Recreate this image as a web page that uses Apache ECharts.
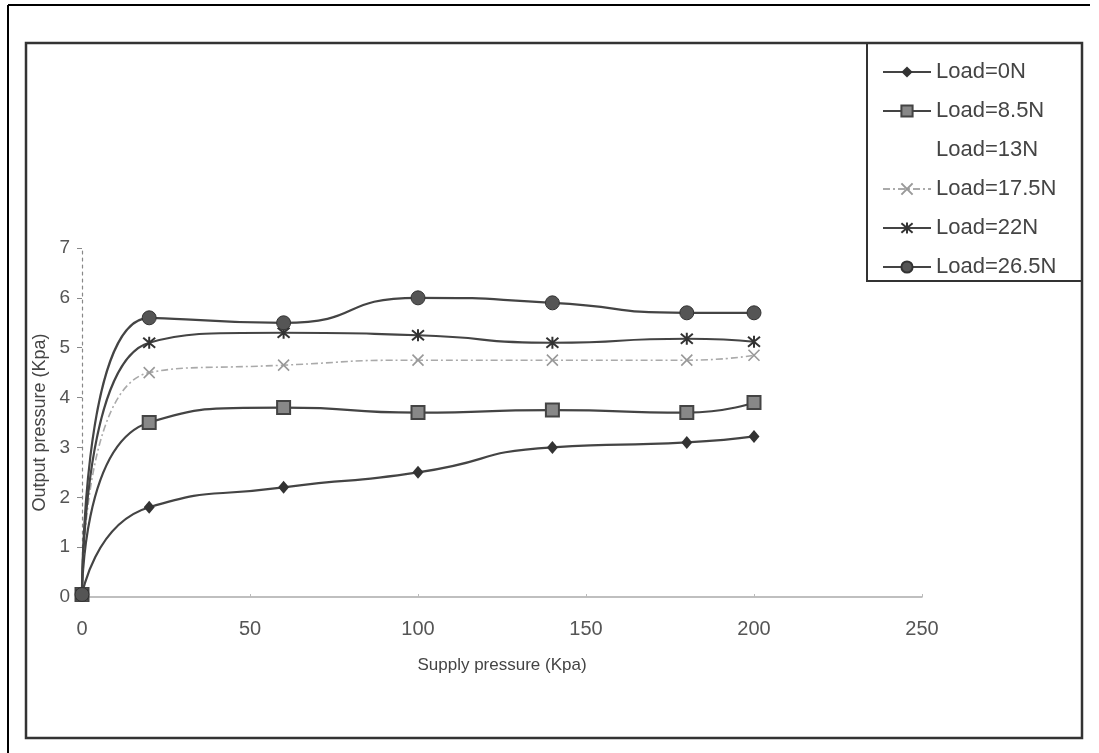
<!DOCTYPE html>
<html>
<head>
<meta charset="utf-8">
<title>Output pressure vs supply pressure</title>
<script src="https://cdn.jsdelivr.net/npm/echarts@6/dist/echarts.min.js"></script>
<style>
  html, body { margin: 0; padding: 0; background: #fff; }
  #chart { width: 1099px; height: 753px; }
</style>
</head>
<body>
<div id="chart"></div>
<script>
// supply pressure (Kpa) where readings were taken
const supply = [0, 20, 60, 100, 140, 180, 200];

// output pressure (Kpa) for each load
const load0 = [0.05, 1.8, 2.2, 2.5, 3.0, 3.1, 3.22];
const load85 = [0.05, 3.5, 3.8, 3.7, 3.75, 3.7, 3.9];
const load13 = []; // nothing drawn for this load in the original
const load175 = [0.05, 4.5, 4.65, 4.75, 4.75, 4.75, 4.85];
const load22 = [0.05, 5.1, 5.3, 5.25, 5.1, 5.18, 5.12];
const load265 = [0.05, 5.6, 5.5, 6.0, 5.9, 5.7, 5.7];

const names = ['Load=0N', 'Load=8.5N', 'Load=13N', 'Load=17.5N', 'Load=22N', 'Load=26.5N'];
const xTicks = [0, 50, 100, 150, 200, 250];
const yTicks = [0, 1, 2, 3, 4, 5, 6, 7];

const pair = arr => arr.map((v, i) => [supply[i], v]);

const crossPath = 'path://M0,0L10,10M10,0L0,10';
const starPath = 'path://M0,0L10,10M10,0L0,10M5,-1L5,11';

const chart = echarts.init(document.getElementById('chart'));

chart.setOption({
  animation: false,
  backgroundColor: '#fff',
  textStyle: { fontFamily: 'Liberation Sans, Arial, sans-serif', color: '#444' },
  grid: { left: 82, right: 177, top: 248, bottom: 156 },
  graphic: [
    // scan frame: only top and left edges show
    { type: 'line', shape: { x1: 8, y1: 5, x2: 1090, y2: 5 }, style: { stroke: '#000', lineWidth: 2 } },
    { type: 'line', shape: { x1: 8, y1: 5, x2: 8, y2: 753 }, style: { stroke: '#000', lineWidth: 2 } },
    // chart frame
    { type: 'rect', shape: { x: 26, y: 43, width: 1056, height: 695 }, style: { fill: 'none', stroke: '#333', lineWidth: 2.5 } },
    // legend box
    { type: 'rect', shape: { x: 867, y: 43, width: 215, height: 238 }, style: { fill: 'none', stroke: '#333', lineWidth: 2 } }
  ],
  legend: {
    orient: 'vertical',
    left: 882,
    top: 61,
    padding: 0,
    itemWidth: 48,
    itemHeight: 14,
    itemGap: 17,
    data: names,
    textStyle: { fontSize: 22, lineHeight: 22, color: '#444', fontFamily: 'Liberation Sans, Arial, sans-serif' }
  },
  xAxis: {
    type: 'value',
    min: 0,
    max: 250,
    interval: 50,
    name: 'Supply pressure (Kpa)',
    nameLocation: 'middle',
    nameGap: 60,
    nameTextStyle: { fontSize: 17, color: '#444' },
    axisLine: { lineStyle: { color: '#aaa', width: 1.5 } },
    axisTick: { show: true, inside: true, length: 3, lineStyle: { color: '#bbb' } },
    axisLabel: {
      fontSize: 20, color: '#555', margin: 22,
      formatter: v => xTicks.includes(v) ? String(v) : ''
    },
    splitLine: { show: false }
  },
  yAxis: {
    type: 'value',
    min: 0,
    max: 7,
    interval: 1,
    name: 'Output pressure (Kpa)',
    nameLocation: 'middle',
    nameGap: 32,
    nameTextStyle: { fontSize: 18, color: '#444' },
    axisLine: { show: true, lineStyle: { color: '#888', width: 1.2, type: [3, 4] } },
    axisTick: { show: true, length: 5, lineStyle: { color: '#888' } },
    axisLabel: {
      fontSize: 19, color: '#555', margin: 12,
      formatter: v => yTicks.includes(v) ? String(v) : ''
    },
    splitLine: { show: false }
  },
  series: [
    {
      name: names[0], type: 'line', smooth: 0.6, data: pair(load0),
      symbol: 'diamond', symbolSize: [11, 13],
      lineStyle: { color: '#444', width: 2.2 },
      itemStyle: { color: '#333' }
    },
    {
      name: names[1], type: 'line', smooth: 0.6, data: pair(load85),
      symbol: 'rect', symbolSize: 13,
      lineStyle: { color: '#444', width: 2.2 },
      itemStyle: { color: '#888', borderColor: '#444', borderWidth: 2 }
    },
    {
      name: names[2], type: 'line', smooth: 0.6, data: pair(load13),
      symbol: 'none',
      lineStyle: { color: '#fff', width: 0 },
      itemStyle: { color: '#fff' }
    },
    {
      name: names[3], type: 'line', smooth: 0.6, data: pair(load175),
      symbol: crossPath, symbolSize: 11,
      lineStyle: { color: '#aaa', width: 1.6, type: [7, 3, 2, 3] },
      itemStyle: { color: 'rgba(0,0,0,0)', borderColor: '#999', borderWidth: 1.6 }
    },
    {
      name: names[4], type: 'line', smooth: 0.6, data: pair(load22),
      symbol: starPath, symbolSize: 12,
      lineStyle: { color: '#444', width: 2.2 },
      itemStyle: { color: 'rgba(0,0,0,0)', borderColor: '#333', borderWidth: 2 }
    },
    {
      name: names[5], type: 'line', smooth: 0.6, data: pair(load265),
      symbol: 'circle', symbolSize: 14,
      lineStyle: { color: '#444', width: 2.2 },
      itemStyle: { color: '#555', borderColor: '#333', borderWidth: 1 }
    }
  ]
});
</script>
</body>
</html>
